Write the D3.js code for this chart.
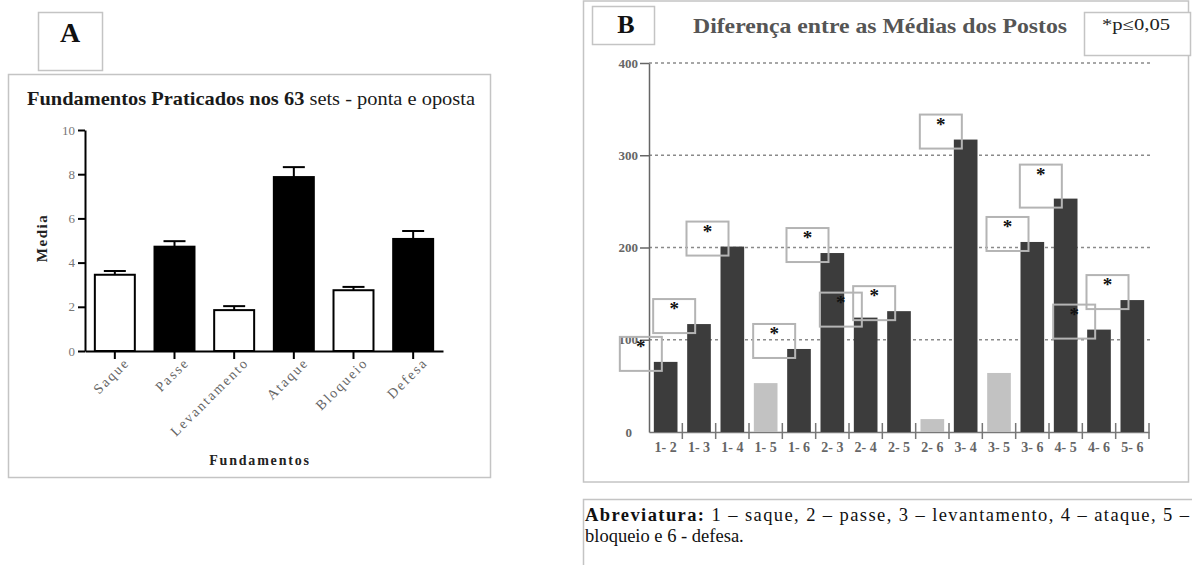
<!DOCTYPE html>
<html>
<head>
<meta charset="utf-8">
<script src="https://cdn.jsdelivr.net/npm/d3@7"></script>
<style>
  html, body { margin: 0; padding: 0; background: #fff; }
  svg { display: block; font-family: "Liberation Serif", "DejaVu Serif", serif; }
</style>
</head>
<body>
<svg id="fig" width="1192" height="565"></svg>
<script>
// Painel A: média de fundamentos praticados por set (ponta e oposta)
const fundamentos = ["Saque", "Passe", "Levantamento", "Ataque", "Bloqueio", "Defesa"];
const mediaFund = [3.45, 4.72, 1.85, 7.87, 2.75, 5.07];
const erroFund = [0.17, 0.25, 0.18, 0.45, 0.15, 0.36];
const fundPreenchidos = ["Passe", "Ataque", "Defesa"];
const ticksA = [0, 2, 4, 6, 8, 10];

// Painel B: diferença entre as médias dos postos
const pares = ["1- 2", "1- 3", "1- 4", "1- 5", "1- 6", "2- 3", "2- 4", "2- 5", "2- 6", "3- 4", "3- 5", "3- 6", "4- 5", "4- 6", "5- 6"];
const difMedias = [76, 117, 201, 53, 90, 194, 124, 131, 14, 317, 64, 206, 253, 111, 143];
const significativo = [true, true, true, false, true, true, true, true, false, true, false, true, true, true, true];
const ticksB = [0, 100, 200, 300, 400];

const svg = d3.select("#fig");
const frameColor = "#c4c4c4";
const serif = "Liberation Serif, serif";

// ---------- Painel A ----------
const gA = svg.append("g");
gA.append("rect").attr("x", 8.5).attr("y", 74.5).attr("width", 482).attr("height", 403)
  .attr("fill", "none").attr("stroke", frameColor).attr("stroke-width", 1.5);
gA.append("rect").attr("x", 38.5).attr("y", 12.5).attr("width", 64).attr("height", 58)
  .attr("fill", "none").attr("stroke", frameColor).attr("stroke-width", 1.5);
gA.append("text").attr("x", 70).attr("y", 42).attr("text-anchor", "middle")
  .attr("font-size", 28).attr("font-weight", "bold").attr("fill", "#111").text("A");

const tA = gA.append("text").attr("x", 27).attr("y", 105).attr("font-size", 19)
  .attr("fill", "#1a1a1a").attr("textLength", 448).attr("lengthAdjust", "spacingAndGlyphs");
tA.append("tspan").attr("font-weight", "bold").text("Fundamentos Praticados nos 63 ");
tA.append("tspan").text("sets - ponta e oposta");

const xA = d3.scaleBand().domain(fundamentos).range([85, 443]).paddingInner(0.33).paddingOuter(0.165);
const yA = d3.scaleLinear().domain([0, 10]).range([351, 130]);

const axA = gA.append("g").attr("transform", "translate(85,0)")
  .call(d3.axisLeft(yA).tickValues(ticksA).tickSize(7).tickSizeOuter(0).tickPadding(3));
axA.select(".domain").attr("stroke", "#000").attr("stroke-width", 2);
axA.selectAll(".tick line").attr("stroke", "#000").attr("stroke-width", 2);
axA.selectAll(".tick text").attr("font-family", serif)
  .attr("font-size", 13).attr("fill", "#777");

const axAx = gA.append("g").attr("transform", "translate(0,351)")
  .call(d3.axisBottom(xA).tickSize(8).tickSizeOuter(0).tickPadding(4));
axAx.select(".domain").attr("stroke", "#000").attr("stroke-width", 2);
axAx.selectAll(".tick line").attr("stroke", "#000").attr("stroke-width", 2);
axAx.selectAll(".tick text").attr("font-family", serif)
  .attr("font-size", 14).attr("fill", "#666").attr("letter-spacing", 2)
  .attr("text-anchor", "end").attr("dy", 0)
  .attr("transform", "translate(7,4) rotate(-45)");

gA.append("g").selectAll("rect").data(fundamentos).join("rect")
  .attr("x", d => xA(d)).attr("width", xA.bandwidth())
  .attr("y", (d, i) => yA(mediaFund[i])).attr("height", (d, i) => yA(0) - yA(mediaFund[i]))
  .attr("fill", d => fundPreenchidos.includes(d) ? "#000" : "#fff")
  .attr("stroke", "#000").attr("stroke-width", 2);

const eb = gA.append("g").attr("stroke", "#000").attr("stroke-width", 2);
fundamentos.forEach((d, i) => {
  const cx = xA(d) + xA.bandwidth() / 2;
  eb.append("line").attr("x1", cx).attr("x2", cx)
    .attr("y1", yA(mediaFund[i])).attr("y2", yA(mediaFund[i] + erroFund[i]));
  eb.append("line").attr("x1", cx - 11).attr("x2", cx + 11)
    .attr("y1", yA(mediaFund[i] + erroFund[i])).attr("y2", yA(mediaFund[i] + erroFund[i]));
});

gA.append("text").attr("transform", "translate(47,238) rotate(-90)").attr("text-anchor", "middle")
  .attr("font-size", 15).attr("font-weight", "bold").attr("letter-spacing", 1.5)
  .attr("fill", "#222").text("Media");
gA.append("text").attr("x", 260).attr("y", 465).attr("text-anchor", "middle")
  .attr("font-size", 14).attr("font-weight", "bold").attr("letter-spacing", 1.8)
  .attr("fill", "#222").text("Fundamentos");

// ---------- Painel B ----------
const gB = svg.append("g");
gB.append("rect").attr("x", 583.5).attr("y", 1).attr("width", 605).attr("height", 481)
  .attr("fill", "none").attr("stroke", frameColor).attr("stroke-width", 1.5);
gB.append("rect").attr("x", 592.5).attr("y", 6.5).attr("width", 62).attr("height", 38)
  .attr("fill", "#fff").attr("stroke", frameColor).attr("stroke-width", 1.5);
gB.append("text").attr("x", 626).attr("y", 33).attr("text-anchor", "middle")
  .attr("font-size", 26).attr("font-weight", "bold").attr("fill", "#111").text("B");
gB.append("text").attr("x", 693).attr("y", 33).attr("font-size", 21).attr("font-weight", "bold")
  .attr("fill", "#555").attr("textLength", 374).attr("lengthAdjust", "spacingAndGlyphs")
  .text("Diferença entre as Médias dos Postos");
gB.append("rect").attr("x", 1084.5).attr("y", 12.5).attr("width", 106).attr("height", 43)
  .attr("fill", "#fff").attr("stroke", frameColor).attr("stroke-width", 1.5);
gB.append("text").attr("x", 1102).attr("y", 30).attr("font-size", 16).attr("fill", "#222")
  .attr("textLength", 68).attr("lengthAdjust", "spacingAndGlyphs").text("*p≤0,05");

const xB = d3.scaleBand().domain(pares).range([649, 1149]).paddingInner(0.29).paddingOuter(0.145);
const yB = d3.scaleLinear().domain([0, 400]).range([432, 63]);

// linhas de grade pontilhadas
gB.append("g").selectAll("line").data(ticksB.filter(t => t > 0)).join("line")
  .attr("x1", 649).attr("x2", 1150).attr("y1", d => yB(d)).attr("y2", d => yB(d))
  .attr("stroke", "#8a8a8a").attr("stroke-width", 1.3).attr("stroke-dasharray", "3,3");

const axB = gB.append("g").attr("transform", "translate(649,0)")
  .call(d3.axisLeft(yB).tickValues(ticksB).tickSize(9).tickSizeOuter(0).tickPadding(2));
axB.select(".domain").attr("stroke", "#666").attr("stroke-width", 1.5);
axB.selectAll(".tick line").attr("stroke", "#666").attr("stroke-width", 1.5)
  .attr("display", d => d === 0 ? "none" : null);
axB.selectAll(".tick text").attr("font-family", serif)
  .attr("font-size", 13).attr("font-weight", "bold").attr("fill", "#666")
  .attr("dx", d => d === 0 ? -6 : 0);

const axBx = gB.append("g").attr("transform", "translate(0,432)")
  .call(d3.axisBottom(xB).tickSize(0).tickSizeOuter(0).tickPadding(10));
axBx.select(".domain").attr("stroke", "#777").attr("stroke-width", 1.5);
axBx.selectAll(".tick text").attr("font-family", serif)
  .attr("font-size", 14).attr("font-weight", "bold").attr("fill", "#666");
// marcas entre as categorias
gB.append("g").selectAll("line").data(pares).join("line")
  .attr("x1", d => xB(d) + xB.bandwidth() + xB.step() * 0.145)
  .attr("x2", d => xB(d) + xB.bandwidth() + xB.step() * 0.145)
  .attr("y1", 423).attr("y2", 439).attr("stroke", "#777").attr("stroke-width", 1.5);

gB.append("g").selectAll("rect").data(pares).join("rect")
  .attr("x", d => xB(d)).attr("width", xB.bandwidth())
  .attr("y", (d, i) => yB(difMedias[i])).attr("height", (d, i) => yB(0) - yB(difMedias[i]))
  .attr("fill", (d, i) => significativo[i] ? "#3c3c3c" : "#c2c2c2");

// caixas de significância sobre o canto superior esquerdo de cada barra
const sig = gB.append("g");
pares.forEach((d, i) => {
  if (!significativo[i]) return;
  const bx = xB(d), by = yB(difMedias[i]);
  const h = d === "4- 5" ? 43 : 34;
  sig.append("rect").attr("x", bx - 34).attr("y", by + 9 - h).attr("width", 42).attr("height", h)
    .attr("fill", "none").attr("stroke", "#b4b4b4").attr("stroke-width", 2);
  sig.append("text").attr("x", bx - 13).attr("y", by + 9 - h + 16).attr("text-anchor", "middle")
    .attr("font-size", 19).attr("font-weight", "bold").attr("fill", "#111").text("*");
});

// quadro de abreviaturas
svg.append("rect").attr("x", 583.5).attr("y", 499.5).attr("width", 620).attr("height", 80)
  .attr("fill", "none").attr("stroke", frameColor).attr("stroke-width", 1.5);
const ab = svg.append("text").attr("x", 585).attr("y", 521).attr("font-size", 18.5).attr("fill", "#111")
  .attr("textLength", 604).attr("lengthAdjust", "spacing");
ab.append("tspan").attr("font-weight", "bold").text("Abreviatura: ");
ab.append("tspan").text("1 – saque,  2 – passe,  3 – levantamento, 4 – ataque,  5 –");
svg.append("text").attr("x", 585).attr("y", 542).attr("font-size", 18.5).attr("fill", "#111")
  .text("bloqueio e 6 - defesa.");
</script>
</body>
</html>
